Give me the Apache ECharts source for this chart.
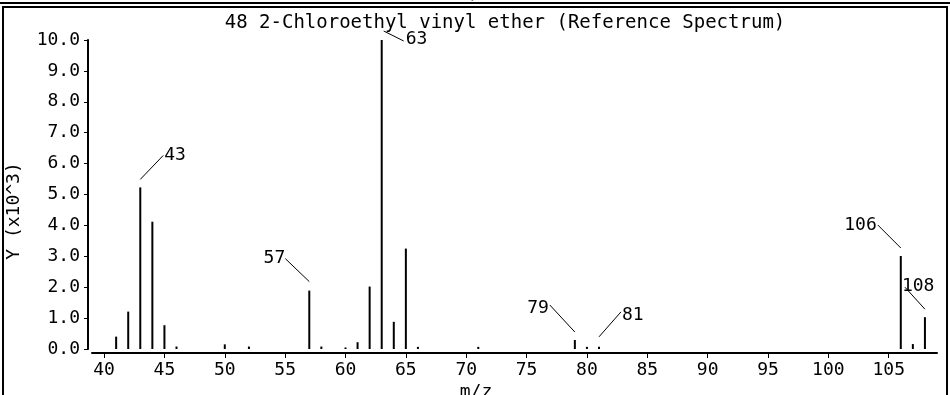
<!DOCTYPE html>
<html>
<head>
<meta charset="utf-8">
<script src="https://cdn.jsdelivr.net/npm/echarts@6/dist/echarts.min.js"></script>
<style>html,body{margin:0;padding:0;background:#fff;}#c{width:950px;height:395px;}</style>
</head>
<body>
<div id="c"></div>
<script>
// m/z values of the peaks
const mzValues = [41, 42, 43, 44, 45, 46, 50, 52, 57, 58, 60, 61, 62, 63, 64, 65, 66, 71, 79, 80, 81, 106, 107, 108];
// intensities in thousands (Y x10^3)
const intensities = [0.40, 1.21, 5.23, 4.12, 0.77, 0.08, 0.15, 0.08, 1.89, 0.08, 0.05, 0.22, 2.02, 10.0, 0.88, 3.25, 0.07, 0.07, 0.29, 0.07, 0.07, 3.01, 0.16, 1.03];
// peaks that carry a label
const labeledPeaks = [43, 57, 63, 79, 81, 106, 108];
// x axis tick values
const xTickValues = [40, 45, 50, 55, 60, 65, 70, 75, 80, 85, 90, 95, 100, 105];
const titleText = '48 2-Chloroethyl vinyl ether (Reference Spectrum)';

// label leader-line styling (pixel offsets relative to the peak top)
const labelStyle = {
  43:  { line: [0, -8, 23, -32], text: [24, -32], align: 'left' },
  57:  { line: [0, -9, -24, -32], text: [-24, -32], align: 'right' },
  63:  { line: [2, -9, 22, 1], text: [24, -1], align: 'left' },
  79:  { line: [0, -8, -25, -35], text: [-26, -32], align: 'right' },
  81:  { line: [0, -10, 22, -35], text: [23, -32], align: 'left' },
  106: { line: [0, -8, -23, -31], text: [-24, -31], align: 'right' },
  108: { line: [0, -8, -20, -30], text: [-23, -31], align: 'left' }
};

const FONT = '"DejaVu Sans Mono", monospace';
const FS = 18;

const barData = mzValues.map((m, i) => [m, intensities[i]]);
const labelData = labeledPeaks.map(m => [m, intensities[mzValues.indexOf(m)]]);

const chart = echarts.init(document.getElementById('c'), null, { renderer: 'canvas' });
chart.setOption({
  backgroundColor: '#fff',
  animation: false,
  title: {
    text: titleText,
    left: 500,
    top: 9,
    textAlign: 'center',
    textStyle: { fontFamily: FONT, fontSize: 19, fontWeight: 'normal', color: '#000' }
  },
  grid: { left: 92, right: 13, top: 40, bottom: 46, containLabel: false },
  xAxis: {
    type: 'value',
    min: 39,
    max: 109,
    offset: 4,
    axisLine: { onZero: false, lineStyle: { color: '#000', width: 2 } },
    axisTick: { show: true, length: 5, lineStyle: { color: '#000', width: 1 }, customValues: xTickValues },
    axisLabel: { margin: 8, color: '#000', fontFamily: FONT, fontSize: FS, customValues: xTickValues },
    splitLine: { show: false }
  },
  yAxis: {
    type: 'value',
    min: 0,
    max: 10,
    interval: 1,
    offset: 4,
    axisLine: { show: true, onZero: false, lineStyle: { color: '#000', width: 2 } },
    axisTick: { show: true, length: 4, lineStyle: { color: '#000', width: 1 } },
    axisLabel: { margin: 8, color: '#000', fontFamily: FONT, fontSize: FS, formatter: v => v.toFixed(1) },
    splitLine: { show: false }
  },
  graphic: [
    { type: 'line', shape: { x1: 0, y1: 3, x2: 950, y2: 3 }, style: { stroke: '#000', lineWidth: 2 } },
    { type: 'rect', shape: { x: 3, y: 7, width: 944, height: 400 }, style: { fill: null, stroke: '#000', lineWidth: 2 } },
    { type: 'text', x: 476, y: 3, style: { text: 'm/z', font: FS + 'px ' + FONT, fill: '#000', align: 'center', verticalAlign: 'bottom' } },
    { type: 'text', x: 14, y: 211, rotation: Math.PI / 2, style: { text: 'Y (x10^3)', font: FS + 'px ' + FONT, fill: '#000', align: 'center', verticalAlign: 'middle' } },
    { type: 'text', x: 476, y: 392, style: { text: 'm/z', font: FS + 'px ' + FONT, fill: '#000', align: 'center', verticalAlign: 'middle' } }
  ],
  series: [
    {
      type: 'bar',
      data: barData,
      barWidth: 2,
      itemStyle: { color: '#000' },
      silent: true
    },
    {
      type: 'custom',
      data: labelData,
      silent: true,
      renderItem: function (params, api) {
        const m = api.value(0);
        const p = api.coord([m, api.value(1)]);
        const s = labelStyle[m];
        return {
          type: 'group',
          children: [
            { type: 'line', shape: { x1: p[0] + s.line[0], y1: p[1] + s.line[1], x2: p[0] + s.line[2], y2: p[1] + s.line[3] }, style: { stroke: '#000', lineWidth: 1 } },
            { type: 'text', x: p[0] + s.text[0], y: p[1] + s.text[1], style: { text: String(m), font: FS + 'px ' + FONT, fill: '#000', align: s.align, verticalAlign: 'middle' } }
          ]
        };
      }
    }
  ]
});
</script>
</body>
</html>
